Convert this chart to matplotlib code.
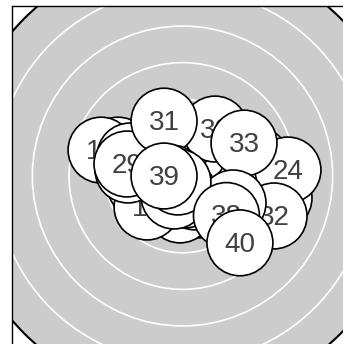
import matplotlib
matplotlib.use("Agg")
import matplotlib.pyplot as plt
from matplotlib.patches import Circle

plt.rcParams["font.family"] = ["Liberation Sans", "DejaVu Sans"]

# shot positions in mm from the target centre (10m air rifle target)
shot_x = [0.51, 1.54, -0.85, 1.88, -4.40, 3.24, 4.61, -2.22, 1.19, 5.05,
          -2.90, -5.56, 2.90, 5.63, -0.17, -2.42, 6.59, 0.85, -1.54, 3.58,
          4.27, -0.85, 0.85, 7.20, -3.58, -3.72, -0.51, 0.17, -3.79, 2.22,
          -1.26, 6.25, 4.20, -0.72, -0.58, 3.45, -0.31, 3.00, -1.26, 3.92]
shot_y = [0.07, 1.09, -1.30, -0.96, 1.77, 0.41, -0.61, 1.09, -1.98, 1.09,
          -0.61, 1.77, 1.77, -1.64, -2.32, -2.12, -1.50, -1.43, 1.77, -1.30,
          -1.98, 0.75, 1.77, 0.41, 1.37, 0.41, 1.77, -1.30, 0.82, 3.21,
          3.75, -2.73, 2.25, -0.14, -1.37, -1.84, -0.41, -2.70, 0.00, -4.57]
shot_labels = [str(i + 1) for i in range(len(shot_x))]

ring_radii = [0.25, 2.75, 5.25, 7.75, 10.25, 12.75]
black_radius = 15.25
pellet_radius = 2.25
LIM = 11.64

fig = plt.figure(figsize=(3.43, 3.44), dpi=100)
ax = fig.add_axes([12 / 343, -2.3 / 344, 341 / 343, 340.6 / 344])
ax.set_facecolor("white")

ax.add_patch(Circle((0, 0), black_radius, facecolor="#cccccc",
                    edgecolor="black", lw=1.5, zorder=1))
for r in ring_radii:
    ax.add_patch(Circle((0, 0), r, facecolor="none", edgecolor="white",
                        lw=1.2, zorder=1.5))

for i, (x, y, lab) in enumerate(zip(shot_x, shot_y, shot_labels)):
    ax.add_patch(Circle((x, y), pellet_radius, facecolor="white",
                        edgecolor="black", lw=1.2, zorder=2 + 2 * i))
    ax.text(x, y - 0.12, lab, ha="center", va="center", fontsize=20,
            color="#404040", zorder=3 + 2 * i)

ax.set_xlim(-LIM, LIM)
ax.set_ylim(-LIM, LIM)
ax.set_xticks([])
ax.set_yticks([])
for s in ax.spines.values():
    s.set_linewidth(1.0)
    s.set_zorder(200)

fig.savefig("out.png", dpi=100)
